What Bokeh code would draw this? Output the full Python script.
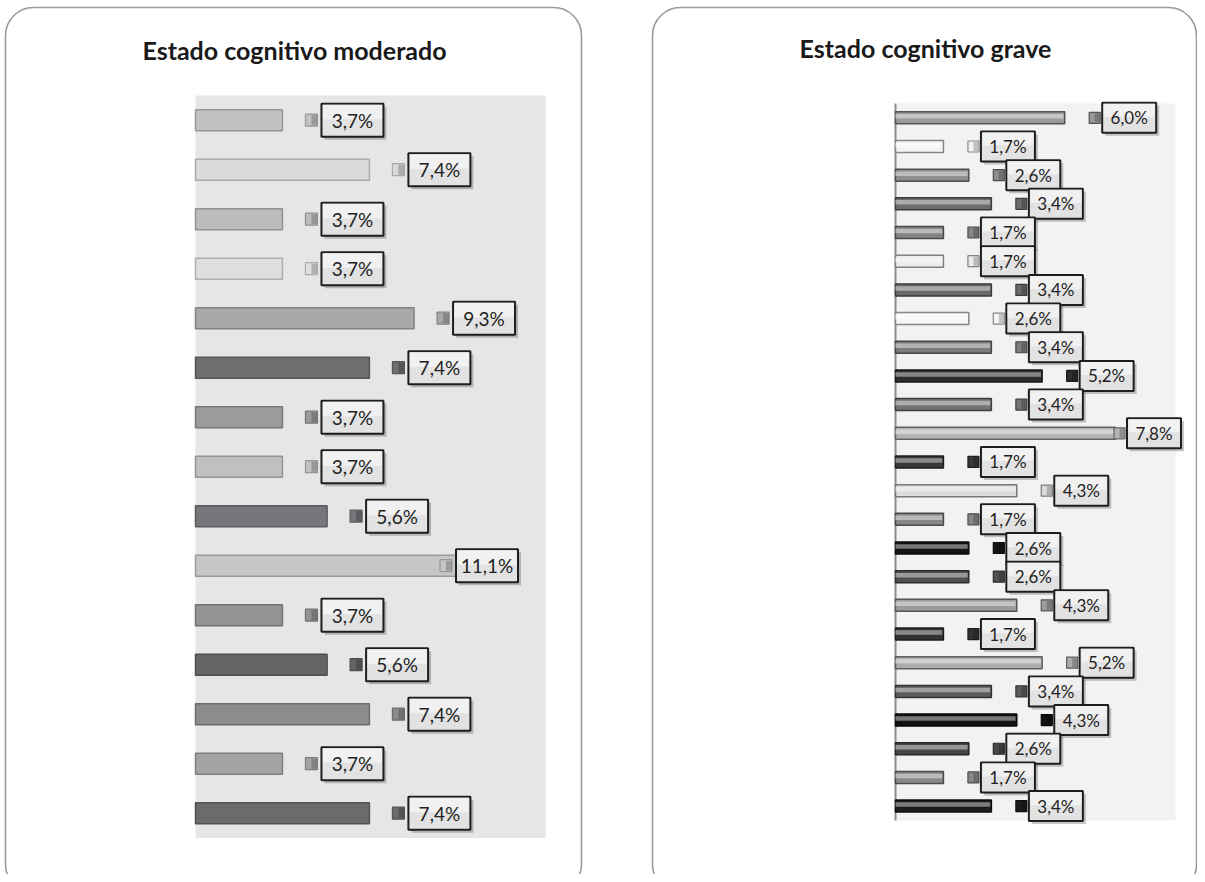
from bokeh.plotting import figure
from bokeh.layouts import row
from bokeh.models import Range1d, BoxAnnotation, Label
from bokeh.core.properties import value
from bokeh.embed import file_html
from bokeh.resources import INLINE

# ---------------- data ----------------
mod_title = "Estado cognitivo moderado"
mod_values = [3.7, 7.4, 3.7, 3.7, 9.3, 7.4, 3.7, 3.7, 5.6, 11.1, 3.7, 5.6, 7.4, 3.7, 7.4]
mod_colors = ["#c2c2c2", "#dadada", "#bcbcbc", "#dedede", "#a9a9a9", "#6d6e70", "#9b9b9b",
              "#c0c0c0", "#76777a", "#c6c6c6", "#949494", "#656565", "#8c8c8c", "#a4a4a4", "#6a6b6d"]

grave_title = "Estado cognitivo grave"
grave_values = [6.0, 1.7, 2.6, 3.4, 1.7, 1.7, 3.4, 2.6, 3.4, 5.2, 3.4, 7.8, 1.7, 4.3, 1.7,
                2.6, 2.6, 4.3, 1.7, 5.2, 3.4, 4.3, 2.6, 1.7, 3.4]
grave_colors = ["#9a9a9a", "#f4f4f4", "#8e8e8e", "#6c6c6c", "#858585", "#ececec", "#6a6a6a",
                "#f6f6f6", "#7c7c7c", "#2e2e2e", "#747474", "#b4b4b4", "#383838", "#dcdcdc",
                "#878787", "#141414", "#505050", "#9c9c9c", "#343434", "#acacac", "#5c5c5c",
                "#121212", "#474747", "#8a8a8a", "#1c1c1c"]


def fmt(v):
    return ("%.1f%%" % v).replace(".", ",")


def mix(c, t, a):
    c = c.lstrip("#"); t = t.lstrip("#")
    r = [int(int(c[i:i + 2], 16) * (1 - a) + int(t[i:i + 2], 16) * a) for i in (0, 2, 4)]
    return "#%02x%02x%02x" % tuple(r)


H = 874


def panel(values, colors, title, cfg):
    n = len(values)
    fx0, W, z, k, r0, pitch = cfg["fx0"], cfg["W"], cfg["zero"], cfg["k"], cfg["row0"], cfg["pitch"]
    X = lambda px: (px - z) / k
    Y = lambda py: (py - r0) / pitch
    p = figure(width=W, height=H, x_range=Range1d(X(fx0), X(fx0 + W)),
               y_range=Range1d(Y(H), Y(0)), toolbar_location=None, output_backend="svg",
               min_border=0, x_axis_location=None, y_axis_location=None,
               outline_line_color=None, background_fill_color="white", border_fill_color="white")
    p.xgrid.visible = False
    p.ygrid.visible = False

    # panel frame
    p.add_layout(BoxAnnotation(left=X(cfg["bl"]), right=X(cfg["br"]), top=Y(7), bottom=Y(892),
                               fill_color=None, line_color="#9a9a9a", line_alpha=1.0,
                               line_width=1.6, border_radius=28, level="underlay"))
    p.add_layout(Label(x=X(cfg["tx"]), y=Y(cfg["ty"]), text=title, text_align="center",
                       text_baseline="middle", text_font="Lato", text_font_style="bold",
                       text_font_size="25px", text_color="#1a1a1a"))

    ys = list(range(n))
    # plot area background
    p.quad(left=0, right=X(cfg["bgr"]), top=-0.5, bottom=n - 0.5,
           fill_color=cfg["bg"], line_color=None)
    if cfg["axis"]:
        p.segment(x0=0, y0=-0.5, x1=0, y1=n - 0.5, line_color="#8c8c8c", line_width=2)

    bh = cfg["barh"] / pitch
    edges = [mix(c, "#000000", cfg["edge"]) for c in colors]
    p.hbar(y=ys, left=0, right=values, height=bh, fill_color=colors,
           line_color=edges, line_width=1.5)
    if cfg["cyl"]:
        p.hbar(y=[y - 1.5 / pitch for y in ys], left=0, right=[v - 1.2 / k for v in values],
               height=4.5 / pitch, fill_color=[mix(c, "#ffffff", 0.5) for c in colors],
               line_color=None, fill_alpha=0.85)

    mx = [min(v + cfg["moff"] / k, X(cfg["mmax"])) for v in values]
    ms = cfg["msize"]
    p.rect(x=mx, y=ys, width=ms, height=ms, width_units="screen", height_units="screen",
           fill_color=colors, line_color=edges, line_width=1.2)
    p.rect(x=[m + ms / 4 / k for m in mx], y=ys, width=ms / 2, height=ms - 2,
           width_units="screen", height_units="screen",
           fill_color=[mix(c, "#000000", 0.3) for c in colors], line_color=None, fill_alpha=0.7)

    bx = [m + cfg["boff"] / k for m in mx]
    bw, bhh = cfg["bw"], cfg["bh"]
    p.rect(x=[b + 3 / k for b in bx], y=[y + 3 / pitch for y in ys], width=bw, height=bhh,
           width_units="screen", height_units="screen", fill_color="#000000",
           fill_alpha=0.22, line_color=None)
    p.rect(x=bx, y=ys, width=bw, height=bhh, width_units="screen", height_units="screen",
           fill_color="#e2e2e2", line_color="#1e1e1e", line_width=2)
    p.rect(x=bx, y=[y - bhh / 4 / pitch for y in ys], width=bw - 3, height=bhh / 2 - 2,
           width_units="screen", height_units="screen", fill_color="#f1f1f1", line_color=None)
    p.text(x=bx, y=ys, text=[fmt(v) for v in values], text_align="center",
           text_baseline="middle", text_font=value("Lato"), text_font_size=cfg["fs"],
           text_color="#222222")
    return p


left_cfg = dict(fx0=0, W=614, zero=195, k=23.5, row0=119.7, pitch=49.5, bgr=545, bg="#e6e6e6",
                axis=False, barh=21, edge=0.22, cyl=False, moff=29, mmax=445.5, msize=12,
                boff=41, bw=62, bh=33, fs="19px", bl=5, br=581, tx=294, ty=49)
right_cfg = dict(fx0=614, W=583, zero=895, k=28.2, row0=117.3, pitch=28.68, bgr=1175,
                 bg="#f2f2f2", axis=True, barh=12, edge=0.45, cyl=True, moff=30, mmax=1119,
                 msize=11, boff=34.5, bw=54, bh=30, fs="17px", bl=652, br=1196, tx=925, ty=47)

p1 = panel(mod_values, mod_colors, mod_title, left_cfg)
p2 = panel(grave_values, grave_colors, grave_title, right_cfg)

layout = row(p1, p2, spacing=0)
open("out.html", "w").write(file_html(layout, INLINE))
